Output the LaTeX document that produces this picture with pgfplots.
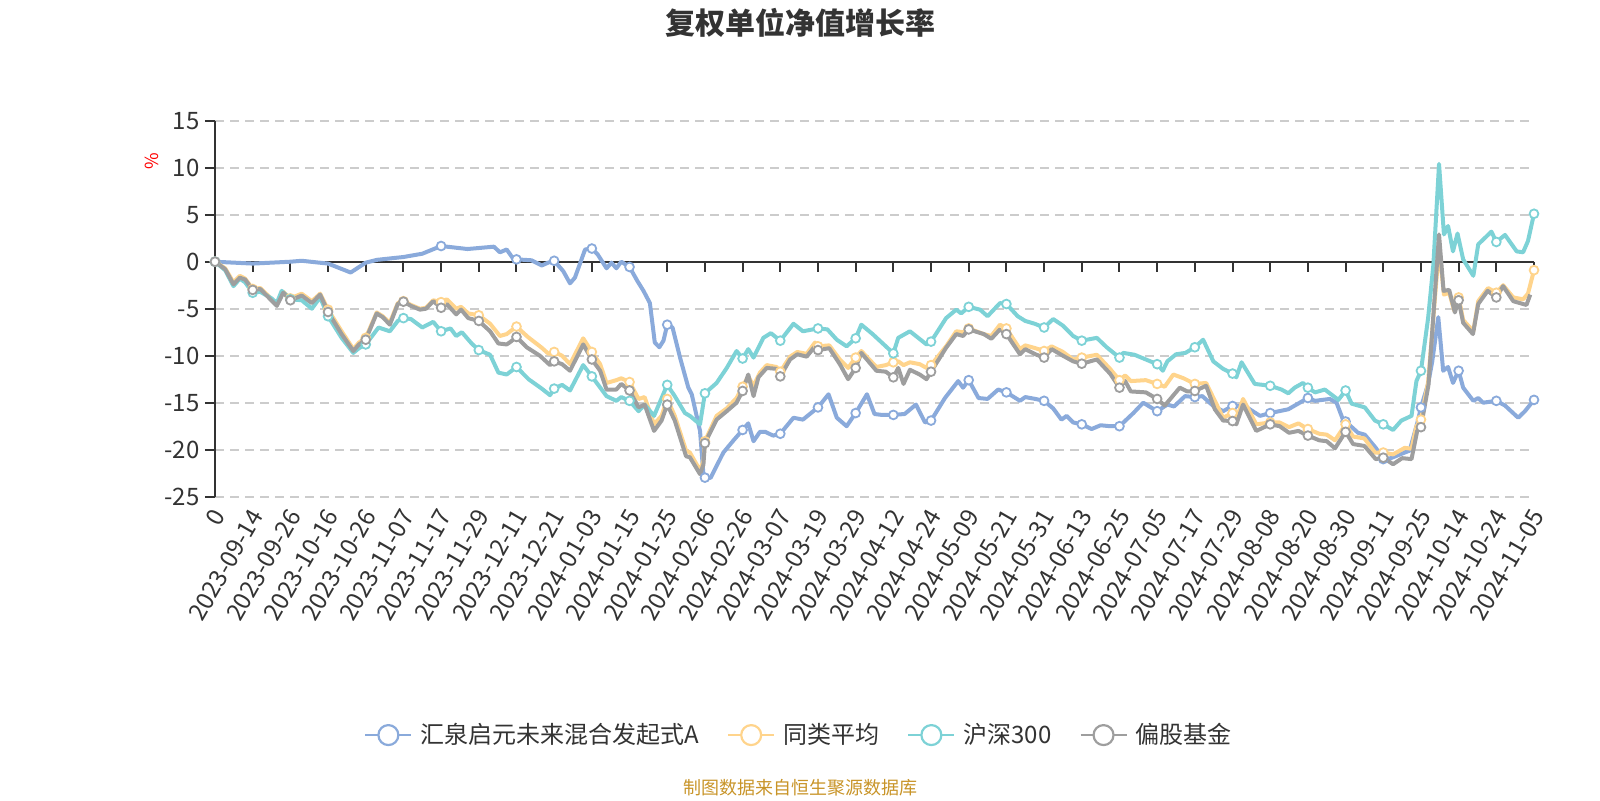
\documentclass[border=0pt]{standalone}
\usepackage{pgfplots}
\pgfplotsset{compat=1.18}
\usepackage{pgfplotstable}
\usepackage{fontspec}
\setmainfont{Noto Sans CJK SC}
\definecolor{blueC}{RGB}{138,170,219}
\definecolor{orangeC}{RGB}{255,212,140}
\definecolor{cyanC}{RGB}{125,210,214}
\definecolor{grayC}{RGB}{158,158,158}
\definecolor{txtC}{RGB}{51,51,51}
\definecolor{footC}{RGB}{200,148,40}

\pgfplotstableread{
x y
0 0
1 -0.2
2 0.0
2.3 0.1
3 -0.2
3.6 -1.15
4 -0.1
4.3 0.2
5 0.5
5.5 0.85
6 1.67
6.7 1.35
7.4 1.6
7.56 1.0
7.74 1.3
7.96 0.05
8 0.25
8.4 0.15
8.67 -0.4
8.84 -0.1
9 0.1
9.24 -1.0
9.42 -2.3
9.55 -1.7
9.82 1.3
10 1.4
10.15 0.8
10.39 -0.7
10.52 -0.1
10.65 -0.7
10.78 0.0
11 -0.56
11.2 -2.0
11.37 -3.1
11.54 -4.4
11.67 -8.6
11.79 -9.1
11.9 -8.4
12 -6.7
12.14 -7.0
12.34 -10.2
12.56 -13.4
12.65 -14.1
12.87 -18.0
12.96 -22.6
13 -22.97
13.15 -23.0
13.49 -20.3
13.76 -19.0
14 -17.9
14.15 -17.2
14.29 -19.1
14.46 -18.1
14.6 -18.1
14.81 -18.5
15 -18.3
15.35 -16.6
15.6 -16.8
16 -15.5
16.28 -14.1
16.5 -16.6
16.76 -17.5
17 -16.1
17.3 -14.1
17.5 -16.2
17.7 -16.3
18 -16.3
18.3 -16.2
18.6 -15.2
18.84 -17.1
19 -16.9
19.37 -14.5
19.72 -12.7
19.85 -13.4
20 -12.6
20.26 -14.5
20.5 -14.6
20.78 -13.6
21 -13.9
21.36 -14.8
21.5 -14.4
21.77 -14.6
22 -14.8
22.24 -15.6
22.46 -16.8
22.6 -16.4
22.77 -17.1
23 -17.3
23.26 -17.8
23.5 -17.4
23.75 -17.5
24 -17.5
24.37 -16.1
24.63 -15.0
25 -15.9
25.27 -15.2
25.45 -15.4
25.74 -14.3
26 -14.4
26.2 -14.3
26.49 -15.35
26.75 -15.9
27 -15.35
27.34 -15.4
27.73 -16.4
28 -16.1
28.48 -15.7
29 -14.5
29.19 -14.8
29.58 -14.6
29.76 -15.0
29.94 -16.9
30 -17.0
30.33 -18.2
30.51 -18.4
30.8 -19.8
31 -21.0
31.2 -20.9
31.57 -20.3
31.7 -20.1
31.92 -16.9
32 -15.5
32.19 -13.0
32.3 -10.6
32.46 -5.9
32.59 -11.6
32.72 -11.2
32.85 -12.9
33 -11.6
33.12 -13.4
33.39 -14.8
33.52 -14.5
33.65 -15.0
34 -14.8
34.23 -15.3
34.58 -16.6
34.76 -15.9
35 -14.7
}\blueT

\pgfplotstableread{
x y
0 0
0.27 -0.7
0.49 -2.2
0.66 -1.5
0.8 -1.8
1 -2.9
1.2 -2.8
1.64 -4.5
1.81 -3.2
2 -3.9
2.3 -3.4
2.57 -4.2
2.79 -3.4
3 -5.1
3.36 -7.4
3.67 -9.3
3.82 -8.6
4 -8.1
4.29 -5.4
4.45 -5.8
4.64 -6.5
4.85 -4.4
5 -4.2
5.2 -4.6
5.44 -5.0
5.6 -4.9
5.79 -4.1
6 -4.3
6.15 -4.0
6.4 -5.0
6.53 -4.8
6.72 -5.5
7 -5.7
7.3 -6.6
7.56 -7.9
7.74 -7.7
8 -6.9
8.3 -8.0
8.67 -9.15
8.85 -9.8
9 -9.6
9.21 -10.0
9.42 -10.9
9.77 -8.15
10 -9.6
10.22 -10.9
10.39 -12.9
10.65 -12.6
10.78 -12.4
11 -12.8
11.24 -14.6
11.4 -14.4
11.65 -17.3
11.85 -16.4
12 -14.6
12.2 -16.4
12.5 -20.1
12.6 -20.3
12.87 -22.2
12.96 -21.2
13 -19.1
13.31 -16.4
13.58 -15.6
13.84 -14.5
14 -13.3
14.15 -12.2
14.29 -13.2
14.46 -11.8
14.64 -11.0
14.9 -11.2
15 -11.7
15.26 -10.1
15.45 -9.6
15.7 -9.8
15.92 -8.6
16 -9.0
16.3 -8.9
16.58 -10.4
16.8 -11.3
17 -10.2
17.15 -9.5
17.55 -11.2
17.8 -11.0
18 -10.7
18.13 -10.6
18.27 -11.0
18.44 -10.7
18.7 -10.9
18.88 -11.3
19 -11.0
19.4 -9.0
19.67 -7.4
19.85 -7.5
20 -7.1
20.4 -7.7
20.6 -7.9
20.83 -6.7
21 -7.1
21.36 -9.3
21.5 -8.9
21.77 -9.2
22 -9.5
22.2 -9.0
22.5 -9.6
22.77 -10.4
23 -10.2
23.4 -9.9
23.75 -11.4
24 -12.6
24.15 -12.1
24.3 -12.7
24.7 -12.6
25 -13.0
25.2 -13.3
25.43 -12.0
25.7 -12.4
26 -13.0
26.3 -12.9
26.58 -15.2
26.75 -16.6
27 -16.1
27.1 -16.8
27.28 -14.6
27.63 -17.3
28 -17.1
28.25 -17.1
28.5 -17.6
28.75 -17.2
29 -17.8
29.3 -18.3
29.5 -18.4
29.72 -19.0
30 -17.3
30.2 -18.6
30.5 -18.8
30.78 -20.3
31 -20.3
31.26 -20.5
31.57 -19.8
31.75 -19.9
31.88 -17.5
32 -16.8
32.19 -12.8
32.48 1.5
32.61 -3.5
32.75 -3.3
32.88 -5.2
33 -3.8
33.12 -6.2
33.39 -7.4
33.52 -4.2
33.78 -2.8
34 -3.3
34.18 -2.5
34.45 -3.8
34.71 -4.0
34.84 -3.4
35 -0.9
}\orangeT

\pgfplotstableread{
x y
0 0
0.27 -0.9
0.49 -2.6
0.66 -1.8
0.8 -2.2
1 -3.3
1.2 -3.2
1.5 -3.9
1.64 -4.4
1.77 -3.1
2 -4.0
2.3 -4.1
2.57 -5.0
2.79 -3.8
3 -5.8
3.36 -8.1
3.67 -9.7
3.82 -9.2
4 -8.8
4.34 -7.0
4.64 -7.4
4.85 -6.3
5 -6.0
5.2 -6.1
5.5 -7.0
5.79 -6.4
6 -7.4
6.25 -7.1
6.4 -7.9
6.55 -7.5
6.81 -8.7
7 -9.4
7.3 -9.9
7.52 -11.8
7.74 -12.0
8 -11.2
8.32 -12.5
8.67 -13.5
8.89 -14.2
9 -13.5
9.21 -13.1
9.42 -13.7
9.77 -11.0
10 -12.2
10.39 -14.3
10.65 -14.8
10.78 -14.4
11 -14.8
11.24 -15.9
11.4 -15.2
11.65 -16.4
12 -13.1
12.2 -14.3
12.47 -16.1
12.6 -16.4
12.87 -17.3
13 -14.0
13.31 -12.9
13.58 -11.3
13.84 -9.5
14 -10.3
14.15 -9.3
14.29 -10.2
14.55 -8.1
14.75 -7.6
15 -8.4
15.35 -6.6
15.6 -7.4
16 -7.1
16.25 -7.2
16.5 -8.3
16.76 -9.0
17 -8.15
17.15 -6.7
17.45 -7.7
17.8 -9.0
18 -9.75
18.13 -8.1
18.44 -7.4
18.88 -8.8
19 -8.5
19.4 -6.0
19.67 -5.1
19.8 -5.5
20 -4.8
20.3 -5.1
20.5 -5.8
20.83 -4.4
21 -4.5
21.3 -5.8
21.5 -6.3
21.75 -6.6
22 -7.0
22.24 -6.1
22.5 -6.8
22.77 -7.9
23 -8.4
23.4 -8.1
23.66 -9.1
24 -10.2
24.1 -9.7
24.4 -9.9
24.7 -10.4
25 -10.9
25.15 -11.6
25.27 -10.6
25.5 -9.85
25.75 -9.7
26 -9.1
26.22 -8.3
26.49 -10.6
26.75 -11.4
27 -11.9
27.1 -12.3
27.24 -10.7
27.59 -13.0
28 -13.2
28.3 -13.6
28.48 -14.0
28.65 -13.4
28.87 -12.9
29 -13.4
29.19 -13.9
29.45 -13.6
29.81 -14.7
30 -13.7
30.16 -15.1
30.51 -15.5
30.78 -16.9
31 -17.3
31.26 -17.9
31.48 -16.9
31.75 -16.4
31.88 -12.7
32 -11.6
32.19 -6.0
32.33 -0.3
32.48 10.4
32.61 2.9
32.72 3.8
32.85 1.1
32.97 3.0
33.12 0.25
33.39 -1.5
33.52 1.85
33.74 2.7
33.87 3.2
34 2.1
34.23 2.85
34.54 1.1
34.71 1.0
34.84 2.2
35 5.1
}\cyanT

\pgfplotstableread{
x y
0 0
0.27 -0.8
0.49 -2.4
0.66 -1.7
0.8 -1.9
1 -3.0
1.2 -2.9
1.64 -4.7
1.81 -3.3
2 -4.1
2.3 -3.6
2.57 -4.4
2.79 -3.5
3 -5.35
3.36 -7.7
3.67 -9.5
3.82 -8.8
4 -8.3
4.29 -5.5
4.45 -5.9
4.64 -6.7
4.85 -4.5
5 -4.25
5.2 -4.7
5.44 -5.1
5.6 -5.0
5.79 -4.2
6 -4.9
6.15 -4.5
6.4 -5.6
6.53 -5.1
6.72 -6.0
7 -6.3
7.3 -7.4
7.52 -8.7
7.74 -8.8
7.85 -8.5
8 -8.0
8.27 -9.1
8.62 -10.0
8.89 -11.0
9 -10.6
9.21 -10.9
9.42 -11.6
9.77 -8.8
10 -10.4
10.22 -11.6
10.39 -13.6
10.65 -13.6
10.78 -13.0
11 -13.7
11.24 -15.5
11.4 -15.2
11.65 -18.0
11.85 -16.9
12 -15.2
12.2 -16.9
12.5 -20.7
12.6 -20.8
12.87 -22.6
12.96 -21.6
13 -19.3
13.31 -16.8
13.58 -15.9
13.84 -15.0
14 -13.75
14.15 -12.0
14.29 -14.3
14.42 -12.3
14.64 -11.3
14.9 -11.4
15 -12.2
15.26 -10.4
15.45 -9.85
15.7 -10.1
15.92 -9.0
16 -9.4
16.3 -9.2
16.58 -10.9
16.8 -12.5
17 -11.3
17.15 -9.7
17.55 -11.6
17.8 -11.7
18 -12.3
18.13 -11.3
18.27 -13.0
18.44 -11.5
18.7 -12.0
18.88 -12.5
19 -11.7
19.4 -9.15
19.67 -7.7
19.85 -7.9
20 -7.2
20.4 -7.7
20.6 -8.2
20.83 -7.2
21 -7.7
21.36 -9.85
21.5 -9.3
21.77 -9.85
22 -10.2
22.2 -9.3
22.5 -10.0
22.77 -10.6
23 -10.85
23.4 -10.4
23.75 -11.9
24 -13.4
24.15 -12.7
24.3 -13.8
24.7 -13.9
25 -14.6
25.2 -15.3
25.35 -14.6
25.6 -13.4
25.8 -13.8
26 -13.75
26.3 -13.2
26.53 -15.7
26.75 -16.9
27 -16.95
27.1 -17.3
27.28 -15.2
27.63 -18.0
28 -17.3
28.25 -17.5
28.5 -18.2
28.75 -18.0
29 -18.5
29.3 -19.0
29.5 -19.1
29.72 -19.85
30 -18.1
30.2 -19.4
30.5 -19.6
30.8 -21.0
31 -20.85
31.26 -21.55
31.5 -20.9
31.75 -21.0
31.9 -18.0
32 -17.6
32.2 -13.1
32.48 2.9
32.6 -3.1
32.75 -3.0
32.9 -5.4
33 -4.1
33.12 -6.5
33.38 -7.7
33.52 -4.5
33.77 -3.1
34 -3.8
34.18 -2.6
34.45 -4.2
34.71 -4.5
34.8 -4.6
34.9 -3.5
}\grayT

\begin{document}
\begin{tikzpicture}
\path[use as bounding box] (0,0) rectangle (800pt,400pt);
\begin{axis}[
  at={(107.5pt,151.65pt)}, anchor=south west,
  width=659.5pt, height=188pt, scale only axis,
  xmin=0, xmax=35, ymin=-25, ymax=15,
  clip=false,
  axis lines=left,
  axis line style={-, draw=txtC, line width=1pt},
  x axis line style={draw=none},
  xtick={0,...,35},
  xticklabels={0,2023-09-14,2023-09-26,2023-10-16,2023-10-26,2023-11-07,2023-11-17,2023-11-29,2023-12-11,2023-12-21,2024-01-03,2024-01-15,2024-01-25,2024-02-06,2024-02-26,2024-03-07,2024-03-19,2024-03-29,2024-04-12,2024-04-24,2024-05-09,2024-05-21,2024-05-31,2024-06-13,2024-06-25,2024-07-05,2024-07-17,2024-07-29,2024-08-08,2024-08-20,2024-08-30,2024-09-11,2024-09-25,2024-10-14,2024-10-24,2024-11-05},
  ytick={-25,-20,-15,-10,-5,0,5,10,15},
  yticklabels={-25,-20,-15,-10,-5,0,5,10,15},
  major x tick style={draw=none},
  major y tick style={draw=txtC, line width=1pt},
  tick align=outside,
  major tick length=5pt,
  xticklabel style={rotate=60, anchor=east, font=\fontsize{12}{14}\selectfont, text=txtC, inner sep=1pt, yshift=-3pt},
  yticklabel style={font=\fontsize{12}{14}\selectfont, text=txtC, inner sep=2pt, xshift=-0.5pt},
  ymajorgrids,
  grid style={draw=black!20, line width=0.9pt, dash pattern=on 4.5pt off 3pt},
  legend columns=4,
  legend style={at={(rel axis cs:0.4435,-0.634)}, anchor=center, draw=none, fill=none,
    font=\fontsize{12}{14}\selectfont, text=txtC,
    /tikz/every even column/.append style={column sep=12pt},
    /tikz/every odd column/.append style={column sep=2pt}},
  legend image code/.code={
    \draw[#1, line width=1.1pt] (0pt,0pt) -- (23pt,0pt);
    \draw[#1, fill=white, line width=1.1pt] (11.5pt,0pt) circle (5pt);
  },
]
\draw[draw=txtC, line width=1pt] (axis cs:0,0) -- (axis cs:35,0);
\pgfplotsinvokeforeach{0,...,35}{\draw[draw=txtC, line width=1pt] (axis cs:#1,0) -- ++(0pt,-5pt);}

\addplot[blueC, line width=2pt, no marks, line join=round] table {\blueT};
\addlegendentry{汇泉启元未来混合发起式A}
\addplot[orangeC, line width=2pt, no marks, line join=round] table {\orangeT};
\addlegendentry{同类平均}
\addplot[cyanC, line width=2pt, no marks, line join=round] table {\cyanT};
\addlegendentry{沪深300}
\addplot[grayC, line width=2pt, no marks, line join=round] table {\grayT};
\addlegendentry{偏股基金}

\addplot[forget plot, only marks, mark=*, mark size=2.2pt, mark options={fill=white, draw=blueC, line width=0.9pt},
  x filter/.expression={(abs(x-round(x))<0.01 && (x<0.5 || x>7.5 || abs(x-6)<0.01)) ? x : nan}] table {\blueT};
\addplot[forget plot, only marks, mark=*, mark size=2.2pt, mark options={fill=white, draw=orangeC, line width=0.9pt},
  x filter/.expression={abs(x-round(x))<0.01 ? x : nan}] table {\orangeT};
\addplot[forget plot, only marks, mark=*, mark size=2.2pt, mark options={fill=white, draw=cyanC, line width=0.9pt},
  x filter/.expression={abs(x-round(x))<0.01 ? x : nan}] table {\cyanT};
\addplot[forget plot, only marks, mark=*, mark size=2.2pt, mark options={fill=white, draw=grayC, line width=0.9pt},
  x filter/.expression={abs(x-round(x))<0.01 ? x : nan}] table {\grayT};
\end{axis}
\node[font=\fontsize{15}{18}\selectfont\bfseries, text=txtC] at (400pt,388.7pt) {复权单位净值增长率};
\node[font=\fontsize{9}{11}\selectfont, text=footC] at (400pt,6pt) {制图数据来自恒生聚源数据库};
\node[rotate=90, text=red, font=\fontsize{9}{11}\selectfont] at (76pt,319.5pt) {\%};
\end{tikzpicture}
\end{document}
